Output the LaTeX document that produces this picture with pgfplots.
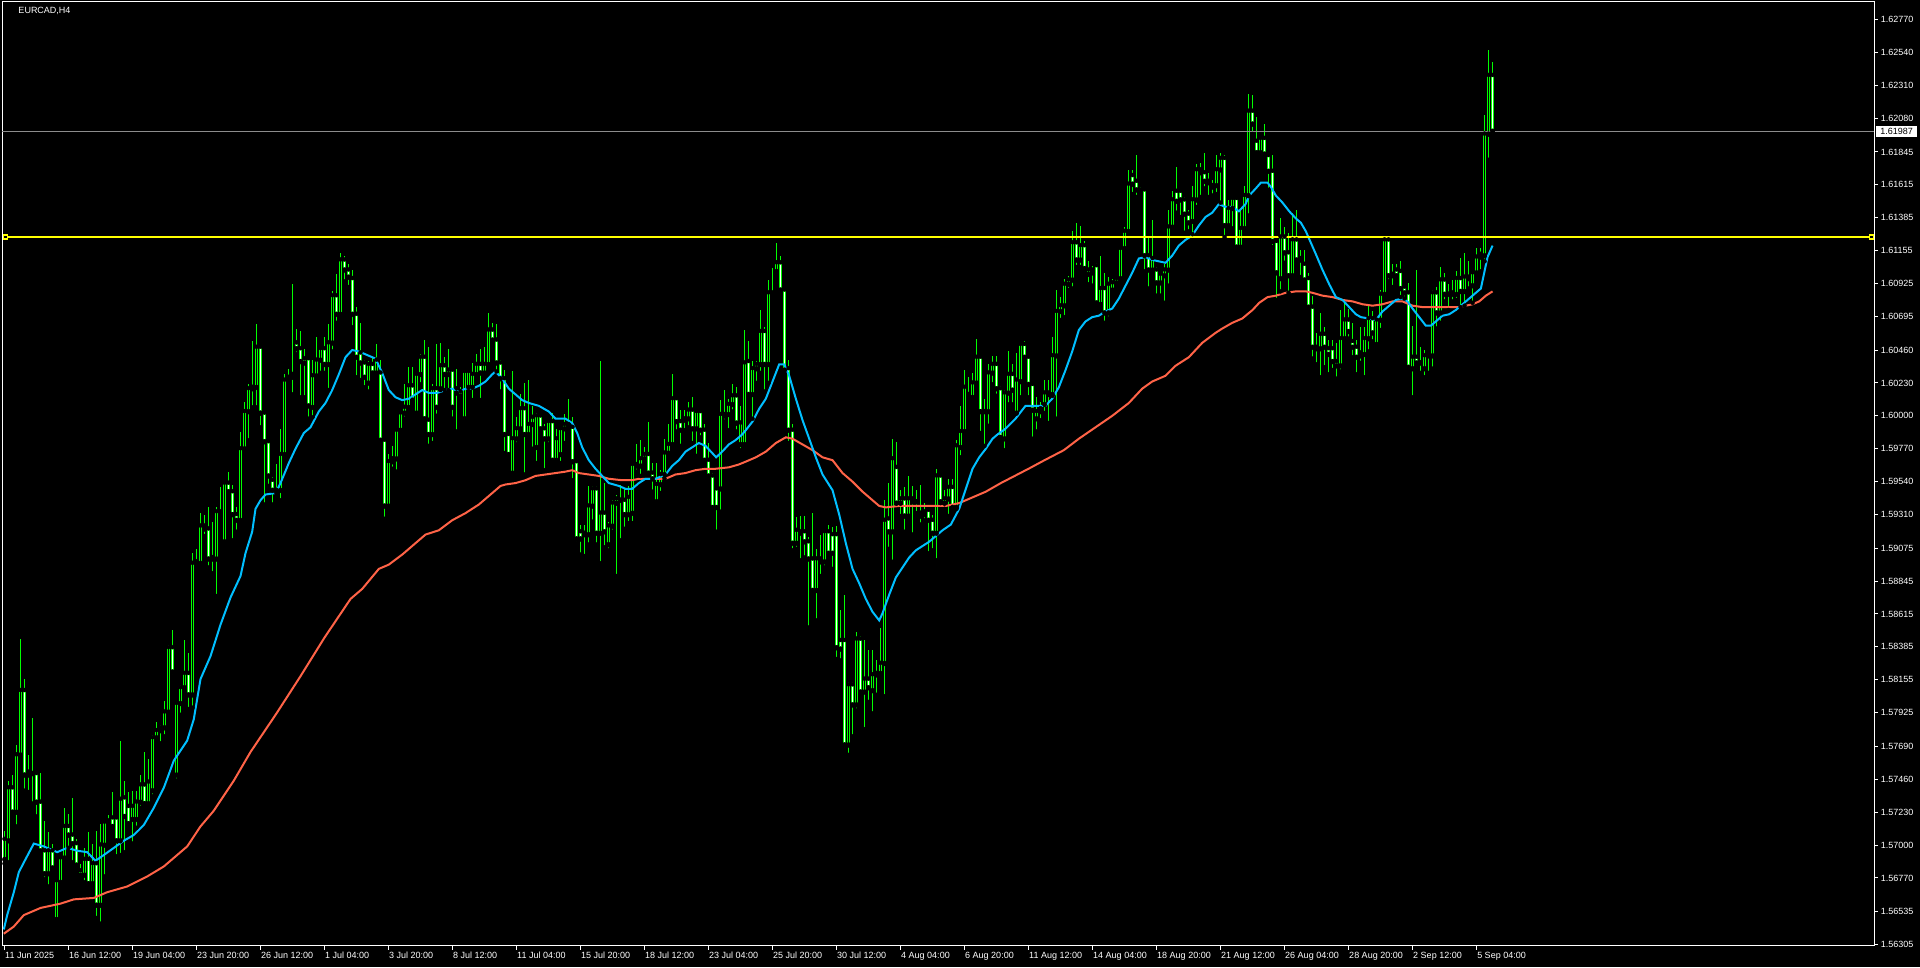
\documentclass[border=0pt]{standalone}
\usepackage{pgfplots}
\usepackage{pgfplotstable}
\usepackage{fontspec}
\setmainfont{Liberation Sans}
\pgfplotsset{compat=1.18}

\definecolor{candle}{RGB}{0,255,0}
\definecolor{mafast}{RGB}{0,191,255}
\definecolor{maslow}{RGB}{255,99,71}
\definecolor{level}{RGB}{255,255,0}
\definecolor{bidline}{RGB}{140,140,140}

% EURCAD H4 candles: bar index, open, high, low, close
\pgfplotstableread{
i o h l c
0 1.5690 1.5710 1.5687 1.5704
1 1.5703 1.5745 1.5688 1.5740
2 1.5740 1.5749 1.5723 1.5723
3 1.5723 1.5770 1.5713 1.5763
4 1.5763 1.5844 1.5762 1.5808
5 1.5808 1.5816 1.5738 1.5749
6 1.5751 1.5763 1.5737 1.5749
7 1.5750 1.5789 1.5729 1.5750
8 1.5750 1.5751 1.5720 1.5730
9 1.5730 1.5750 1.5693 1.5696
10 1.5696 1.5717 1.5676 1.5680
11 1.5680 1.5709 1.5671 1.5696
12 1.5696 1.5701 1.5681 1.5684
13 1.5648 1.5676 1.5648 1.5675
14 1.5674 1.5692 1.5673 1.5691
15 1.5691 1.5726 1.5690 1.5713
16 1.5713 1.5722 1.5698 1.5707
17 1.5707 1.5733 1.5688 1.5701
18 1.5701 1.5704 1.5684 1.5686
19 1.5682 1.5687 1.5678 1.5679
20 1.5679 1.5698 1.5674 1.5690
21 1.5690 1.5709 1.5673 1.5673
22 1.5673 1.5701 1.5673 1.5687
23 1.5687 1.5710 1.5649 1.5658
24 1.5658 1.5715 1.5645 1.5700
25 1.5700 1.5716 1.5678 1.5716
26 1.5717 1.5721 1.5713 1.5715
27 1.5719 1.5737 1.5712 1.5713
28 1.5719 1.5720 1.5692 1.5703
29 1.5703 1.5773 1.5693 1.5732
30 1.5733 1.5745 1.5695 1.5720
31 1.5727 1.5737 1.5712 1.5715
32 1.5718 1.5738 1.5701 1.5727
33 1.5718 1.5738 1.5712 1.5730
34 1.5730 1.5749 1.5726 1.5742
35 1.5742 1.5765 1.5728 1.5729
36 1.5729 1.5760 1.5727 1.5744
37 1.5738 1.5777 1.5734 1.5775
38 1.5775 1.5786 1.5773 1.5780
39 1.5780 1.5784 1.5771 1.5782
40 1.5782 1.5801 1.5776 1.5793
41 1.5793 1.5840 1.5791 1.5838
42 1.5838 1.5850 1.5818 1.5821
43 1.5749 1.5801 1.5745 1.5799
44 1.5799 1.5812 1.5791 1.5810
45 1.5810 1.5843 1.5807 1.5820
46 1.5820 1.5834 1.5795 1.5805
47 1.5805 1.5904 1.5796 1.5897
48 1.5897 1.5907 1.5894 1.5898
49 1.5897 1.5932 1.5896 1.5923
50 1.5923 1.5931 1.5916 1.5921
51 1.5921 1.5936 1.5894 1.5900
52 1.5900 1.5926 1.5890 1.5901
53 1.5900 1.5936 1.5874 1.5933
54 1.5933 1.5950 1.5930 1.5932
55 1.5912 1.5954 1.5912 1.5953
56 1.5953 1.5961 1.5946 1.5947
57 1.5947 1.5952 1.5913 1.5931
58 1.5931 1.5936 1.5919 1.5927
59 1.5927 1.5989 1.5926 1.5977
60 1.5977 1.6010 1.5976 1.6003
61 1.6003 1.6022 1.5983 1.6019
62 1.6019 1.6052 1.6006 1.6020
63 1.6020 1.6064 1.6006 1.6048
64 1.6048 1.6049 1.5992 1.6002
65 1.6002 1.6003 1.5938 1.5982
66 1.5982 1.5983 1.5951 1.5958
67 1.5955 1.5957 1.5938 1.5948
68 1.5948 1.5966 1.5946 1.5947
69 1.5948 1.5991 1.5941 1.5973
70 1.5973 1.6029 1.5971 1.6025
71 1.6025 1.6033 1.6024 1.6027
72 1.6027 1.6092 1.6015 1.6029
73 1.6051 1.6061 1.6043 1.6047
74 1.6047 1.6059 1.6013 1.6038
75 1.6040 1.6047 1.6013 1.6037
76 1.6040 1.6041 1.5998 1.6007
77 1.6006 1.6039 1.5999 1.6028
78 1.6028 1.6055 1.6027 1.6039
79 1.6039 1.6048 1.6030 1.6047
80 1.6047 1.6055 1.6030 1.6036
81 1.6036 1.6064 1.6018 1.6051
82 1.6051 1.6087 1.6045 1.6084
83 1.6084 1.6099 1.6065 1.6071
84 1.6071 1.6114 1.6071 1.6109
85 1.6109 1.6112 1.6094 1.6102
86 1.6102 1.6106 1.6090 1.6097
87 1.6096 1.6102 1.6062 1.6071
88 1.6071 1.6076 1.6027 1.6041
89 1.6044 1.6065 1.6025 1.6037
90 1.6037 1.6039 1.6020 1.6027
91 1.6023 1.6038 1.6017 1.6036
92 1.6036 1.6041 1.6029 1.6030
93 1.6030 1.6050 1.6030 1.6039
94 1.6030 1.6039 1.5982 1.5983
95 1.5983 1.5984 1.5928 1.5937
96 1.5937 1.5973 1.5934 1.5968
97 1.5968 1.5979 1.5963 1.5970
98 1.5970 1.5991 1.5961 1.5990
99 1.5990 1.6003 1.5989 1.6002
100 1.6002 1.6022 1.5998 1.6006
101 1.6006 1.6034 1.6005 1.6021
102 1.6021 1.6034 1.6010 1.6011
103 1.6002 1.6030 1.6002 1.6029
104 1.6029 1.6043 1.6022 1.6041
105 1.6041 1.6053 1.5997 1.5998
106 1.5997 1.6048 1.5979 1.5987
107 1.5987 1.6022 1.5981 1.6019
108 1.6019 1.6050 1.6000 1.6006
109 1.6019 1.6051 1.6018 1.6035
110 1.6035 1.6041 1.6018 1.6029
111 1.6029 1.6047 1.6018 1.6032
112 1.6032 1.6033 1.5998 1.6006
113 1.6019 1.6033 1.5989 1.6016
114 1.6017 1.6020 1.6011 1.6014
115 1.5998 1.6033 1.5998 1.6031
116 1.6020 1.6032 1.6017 1.6031
117 1.6020 1.6037 1.6011 1.6029
118 1.6029 1.6043 1.6026 1.6036
119 1.6036 1.6047 1.6011 1.6030
120 1.6030 1.6048 1.6029 1.6036
121 1.6036 1.6072 1.6035 1.6060
122 1.6060 1.6065 1.6051 1.6053
123 1.6053 1.6064 1.6031 1.6037
124 1.6037 1.6039 1.6017 1.6026
125 1.6026 1.6032 1.5974 1.5987
126 1.5987 1.5989 1.5970 1.5973
127 1.5960 1.6031 1.5960 1.5984
128 1.5984 1.5999 1.5980 1.5991
129 1.5991 1.6015 1.5988 1.6005
130 1.6005 1.6023 1.5959 1.5987
131 1.5987 1.6025 1.5985 1.5994
132 1.5994 1.6007 1.5977 1.5999
133 1.5978 1.6002 1.5967 1.6000
134 1.6000 1.6001 1.5989 1.5991
135 1.5991 1.5994 1.5962 1.5984
136 1.5984 1.5997 1.5980 1.5996
137 1.5996 1.6002 1.5967 1.5969
138 1.5969 1.5991 1.5967 1.5984
139 1.5973 1.5991 1.5967 1.5991
140 1.5991 1.6001 1.5981 1.5994
141 1.5994 1.6012 1.5990 1.5992
142 1.5992 1.5999 1.5955 1.5968
143 1.5968 1.5969 1.5911 1.5914
144 1.5919 1.5924 1.5903 1.5914
145 1.5917 1.5924 1.5902 1.5918
146 1.5917 1.5951 1.5910 1.5937
147 1.5937 1.5951 1.5926 1.5949
148 1.5949 1.5951 1.5910 1.5918
149 1.5918 1.6038 1.5897 1.5932
150 1.5932 1.5953 1.5908 1.5919
151 1.5910 1.5926 1.5906 1.5923
152 1.5923 1.5941 1.5919 1.5939
153 1.5939 1.5945 1.5888 1.5942
154 1.5941 1.5952 1.5913 1.5941
155 1.5941 1.5949 1.5921 1.5931
156 1.5931 1.5951 1.5925 1.5943
157 1.5932 1.5968 1.5925 1.5966
158 1.5966 1.5980 1.5961 1.5965
159 1.5965 1.5983 1.5958 1.5970
160 1.5970 1.5978 1.5967 1.5973
161 1.5973 1.5996 1.5959 1.5960
162 1.5960 1.5967 1.5947 1.5956
163 1.5940 1.5967 1.5940 1.5952
164 1.5952 1.5962 1.5946 1.5959
165 1.5959 1.5984 1.5956 1.5974
166 1.5974 1.5994 1.5973 1.5980
167 1.5980 1.6029 1.5979 1.6012
168 1.6012 1.6013 1.5989 1.5996
169 1.5996 1.6004 1.5979 1.5990
170 1.5997 1.6004 1.5990 1.5998
171 1.5998 1.6010 1.5992 1.6004
172 1.6004 1.6013 1.5981 1.5991
173 1.5991 1.6003 1.5972 1.6003
174 1.6003 1.6004 1.5985 1.5990
175 1.5990 1.5994 1.5968 1.5969
176 1.5969 1.5981 1.5956 1.5958
177 1.5958 1.5960 1.5934 1.5936
178 1.5949 1.5950 1.5919 1.5936
179 1.5949 1.6011 1.5933 1.6001
180 1.6001 1.6018 1.5996 1.6000
181 1.6001 1.6012 1.5990 1.6008
182 1.6008 1.6022 1.6003 1.6014
183 1.6014 1.6020 1.5989 1.5995
184 1.5980 1.6007 1.5976 1.5995
185 1.5980 1.6060 1.5978 1.6037
186 1.6038 1.6052 1.6014 1.6015
187 1.6015 1.6038 1.5998 1.6033
188 1.6033 1.6038 1.6023 1.6036
189 1.6036 1.6074 1.6030 1.6059
190 1.6059 1.6062 1.6017 1.6036
191 1.6036 1.6095 1.6023 1.6086
192 1.6086 1.6103 1.6082 1.6084
193 1.6101 1.6121 1.6098 1.6107
194 1.6107 1.6112 1.6087 1.6088
195 1.6088 1.6089 1.6032 1.6032
196 1.6033 1.6039 1.5981 1.5990
197 1.5990 1.5994 1.5906 1.5911
198 1.5911 1.5929 1.5907 1.5920
199 1.5919 1.5930 1.5899 1.5918
200 1.5919 1.5930 1.5901 1.5912
201 1.5912 1.5915 1.5852 1.5900
202 1.5900 1.5932 1.5876 1.5878
203 1.5878 1.5907 1.5857 1.5900
204 1.5900 1.5917 1.5888 1.5898
205 1.5898 1.5920 1.5894 1.5919
206 1.5919 1.5924 1.5902 1.5904
207 1.5917 1.5922 1.5893 1.5904
208 1.5917 1.5923 1.5830 1.5838
209 1.5843 1.5864 1.5829 1.5837
210 1.5843 1.5875 1.5767 1.5770
211 1.5770 1.5814 1.5763 1.5812
212 1.5812 1.5814 1.5776 1.5798
213 1.5798 1.5849 1.5794 1.5844
214 1.5844 1.5846 1.5805 1.5807
215 1.5807 1.5843 1.5781 1.5816
216 1.5816 1.5836 1.5800 1.5810
217 1.5808 1.5836 1.5792 1.5819
218 1.5819 1.5829 1.5805 1.5820
219 1.5820 1.5852 1.5817 1.5827
220 1.5827 1.5941 1.5804 1.5927
221 1.5928 1.5953 1.5907 1.5919
222 1.5919 1.5984 1.5898 1.5970
223 1.5964 1.5982 1.5939 1.5939
224 1.5939 1.5948 1.5930 1.5942
225 1.5942 1.5950 1.5919 1.5930
226 1.5930 1.5958 1.5930 1.5942
227 1.5942 1.5951 1.5917 1.5940
228 1.5940 1.5948 1.5932 1.5940
229 1.5932 1.5952 1.5924 1.5930
230 1.5931 1.5939 1.5927 1.5933
231 1.5934 1.5935 1.5904 1.5927
232 1.5927 1.5931 1.5906 1.5918
233 1.5918 1.5963 1.5899 1.5958
234 1.5958 1.5959 1.5939 1.5940
235 1.5939 1.5948 1.5935 1.5942
236 1.5942 1.5956 1.5930 1.5950
237 1.5950 1.5956 1.5933 1.5936
238 1.5936 1.5983 1.5935 1.5979
239 1.5978 1.6007 1.5971 1.5989
240 1.5989 1.6032 1.5989 1.6020
241 1.6013 1.6027 1.6010 1.6015
242 1.6013 1.6030 1.6010 1.6023
243 1.6023 1.6054 1.6022 1.6041
244 1.6041 1.6042 1.5988 1.6003
245 1.6003 1.6012 1.5979 1.6003
246 1.6003 1.6036 1.5993 1.6030
247 1.6030 1.6042 1.6022 1.6036
248 1.6036 1.6042 1.6014 1.6019
249 1.6019 1.6021 1.5983 1.5985
250 1.5984 1.6018 1.5976 1.6016
251 1.6016 1.6045 1.6008 1.6029
252 1.6029 1.6036 1.6008 1.6018
253 1.6002 1.6044 1.6002 1.6025
254 1.6024 1.6051 1.6013 1.6050
255 1.6050 1.6052 1.6039 1.6041
256 1.6041 1.6041 1.6013 1.6022
257 1.6022 1.6023 1.5984 1.6004
258 1.5998 1.6013 1.5989 1.6003
259 1.6003 1.6010 1.5997 1.6005
260 1.6008 1.6025 1.6002 1.6016
261 1.6016 1.6025 1.5995 1.6015
262 1.6015 1.6055 1.6014 1.6042
263 1.6042 1.6088 1.5998 1.6073
264 1.6073 1.6083 1.6067 1.6077
265 1.6077 1.6096 1.6069 1.6092
266 1.6092 1.6098 1.6088 1.6095
267 1.6095 1.6129 1.6089 1.6121
268 1.6121 1.6135 1.6104 1.6109
269 1.6109 1.6133 1.6104 1.6119
270 1.6119 1.6122 1.6102 1.6103
271 1.6099 1.6108 1.6092 1.6102
272 1.6100 1.6105 1.6091 1.6102
273 1.6105 1.6107 1.6077 1.6079
274 1.6078 1.6112 1.6077 1.6089
275 1.6089 1.6100 1.6065 1.6072
276 1.6072 1.6097 1.6068 1.6092
277 1.6088 1.6096 1.6087 1.6093
278 1.6093 1.6097 1.6092 1.6096
279 1.6096 1.6118 1.6095 1.6117
280 1.6117 1.6132 1.6116 1.6129
281 1.6129 1.6172 1.6128 1.6162
282 1.6168 1.6172 1.6155 1.6162
283 1.6164 1.6182 1.6153 1.6158
284 1.6158 1.6160 1.6154 1.6156
285 1.6158 1.6158 1.6101 1.6112
286 1.6112 1.6124 1.6089 1.6102
287 1.6102 1.6137 1.6101 1.6110
288 1.6102 1.6104 1.6084 1.6093
289 1.6093 1.6099 1.6084 1.6099
290 1.6098 1.6106 1.6079 1.6102
291 1.6102 1.6144 1.6091 1.6132
292 1.6132 1.6157 1.6130 1.6151
293 1.6157 1.6174 1.6142 1.6150
294 1.6157 1.6158 1.6139 1.6151
295 1.6151 1.6153 1.6128 1.6141
296 1.6141 1.6144 1.6129 1.6135
297 1.6136 1.6161 1.6127 1.6151
298 1.6151 1.6176 1.6146 1.6172
299 1.6172 1.6177 1.6153 1.6170
300 1.6170 1.6184 1.6159 1.6164
301 1.6164 1.6170 1.6153 1.6163
302 1.6161 1.6165 1.6154 1.6160
303 1.6161 1.6182 1.6155 1.6172
304 1.6172 1.6184 1.6149 1.6180
305 1.6180 1.6182 1.6125 1.6133
306 1.6133 1.6151 1.6132 1.6145
307 1.6145 1.6153 1.6131 1.6152
308 1.6152 1.6154 1.6116 1.6118
309 1.6118 1.6144 1.6118 1.6131
310 1.6131 1.6161 1.6130 1.6154
311 1.6154 1.6225 1.6140 1.6213
312 1.6213 1.6224 1.6197 1.6204
313 1.6192 1.6209 1.6182 1.6184
314 1.6184 1.6194 1.6182 1.6194
315 1.6194 1.6204 1.6181 1.6183
316 1.6182 1.6183 1.6158 1.6171
317 1.6171 1.6182 1.6118 1.6122
318 1.6122 1.6123 1.6081 1.6100
319 1.6096 1.6138 1.6087 1.6125
320 1.6125 1.6132 1.6107 1.6114
321 1.6114 1.6128 1.6086 1.6098
322 1.6098 1.6142 1.6097 1.6123
323 1.6123 1.6144 1.6107 1.6109
324 1.6110 1.6116 1.6097 1.6109
325 1.6106 1.6116 1.6094 1.6095
326 1.6096 1.6100 1.6073 1.6076
327 1.6076 1.6084 1.6040 1.6048
328 1.6048 1.6058 1.6036 1.6047
329 1.6047 1.6072 1.6027 1.6057
330 1.6057 1.6062 1.6034 1.6048
331 1.6047 1.6053 1.6029 1.6043
332 1.6047 1.6053 1.6032 1.6038
333 1.6038 1.6051 1.6026 1.6035
334 1.6035 1.6074 1.6031 1.6054
335 1.6054 1.6082 1.6053 1.6067
336 1.6067 1.6075 1.6054 1.6059
337 1.6052 1.6065 1.6041 1.6048
338 1.6048 1.6053 1.6029 1.6041
339 1.6042 1.6062 1.6037 1.6044
340 1.6043 1.6062 1.6027 1.6054
341 1.6054 1.6077 1.6045 1.6068
342 1.6068 1.6073 1.6052 1.6058
343 1.6050 1.6068 1.6049 1.6067
344 1.6067 1.6088 1.6060 1.6085
345 1.6085 1.6125 1.6084 1.6123
346 1.6123 1.6124 1.6094 1.6098
347 1.6099 1.6106 1.6090 1.6098
348 1.6102 1.6106 1.6095 1.6098
349 1.6101 1.6108 1.6083 1.6089
350 1.6090 1.6091 1.6082 1.6086
351 1.6086 1.6093 1.6033 1.6034
352 1.6033 1.6063 1.6013 1.6041
353 1.6041 1.6102 1.6036 1.6037
354 1.6037 1.6048 1.6030 1.6037
355 1.6033 1.6046 1.6027 1.6042
356 1.6042 1.6044 1.6030 1.6042
357 1.6042 1.6088 1.6033 1.6086
358 1.6086 1.6090 1.6061 1.6072
359 1.6072 1.6104 1.6065 1.6095
360 1.6095 1.6100 1.6080 1.6085
361 1.6085 1.6092 1.6074 1.6085
362 1.6085 1.6095 1.6080 1.6086
363 1.6085 1.6101 1.6081 1.6096
364 1.6096 1.6110 1.6076 1.6087
365 1.6087 1.6114 1.6077 1.6097
366 1.6097 1.6108 1.6089 1.6096
367 1.6091 1.6101 1.6079 1.6100
368 1.6100 1.6117 1.6100 1.6111
369 1.6111 1.6117 1.6101 1.6113
370 1.6112 1.6210 1.6108 1.6197
371 1.6197 1.6256 1.6179 1.6238
372 1.6238 1.6247 1.6196 1.6199
}\candles

% fast moving average (blue)
\pgfplotstableread{
x y
-0.17 1.5641
0.67 1.5651
2.33 1.5667
3.58 1.5681
5.25 1.5690
7.33 1.5701
9.83 1.5699
13.17 1.5695
15.67 1.5698
18.17 1.5696
20.67 1.5695
22.75 1.5689
24.83 1.5693
27.33 1.5698
29.83 1.5703
32.33 1.5707
34.83 1.5714
37.33 1.5726
39.83 1.5740
42.33 1.5759
45.67 1.5773
47.33 1.5788
49 1.5816
51.5 1.5832
54 1.5854
56.5 1.5873
59 1.5888
60.25 1.5904
61.92 1.5919
62.75 1.5935
64 1.5941
65.25 1.5945
67.75 1.5946
69 1.5953
71.08 1.5967
72.75 1.5977
74.83 1.5988
76.5 1.5992
78.58 1.6003
80.25 1.6009
81.92 1.6018
83.58 1.6029
85.25 1.6041
86.92 1.6046
88.58 1.6045
91.08 1.6042
92.75 1.6040
94.42 1.6030
96.08 1.6018
97.75 1.6013
99.42 1.6011
101.08 1.6012
102.75 1.6015
104.42 1.6018
106.08 1.6016
108.17 1.6016
110.25 1.6018
111.92 1.6019
113.58 1.6017
115.25 1.6019
116.92 1.6019
118.58 1.6021
120.25 1.6024
121.92 1.6029
122.75 1.6031
124.42 1.6026
126.08 1.6019
127.75 1.6015
129.42 1.6011
131.08 1.6009
133.58 1.6007
136.08 1.6003
137.75 1.5998
140.25 1.5998
141.92 1.5995
143.17 1.5988
144.42 1.5978
146.08 1.5969
147.75 1.5963
149.42 1.5958
151.08 1.5953
153.58 1.5951
155.25 1.5949
156.92 1.5949
158.58 1.5953
160.25 1.5956
162.75 1.5956
165.25 1.5959
166.92 1.5965
168.58 1.5969
170.25 1.5975
171.92 1.5978
173.58 1.5981
175.25 1.5979
176.92 1.5974
177.92 1.5971
179.42 1.5975
181.08 1.5980
182.75 1.5983
184.42 1.5987
185.33 1.5990
187 1.5996
188.67 1.6005
190.33 1.6012
192 1.6024
193.67 1.6036
194.92 1.6036
196.17 1.6028
197.83 1.6012
199.5 1.5997
201.17 1.5984
202.83 1.5971
204.5 1.5959
207 1.5948
208.67 1.5931
210.33 1.5911
212 1.5893
213.67 1.5883
215.33 1.5872
217 1.5863
218.67 1.5857
219.5 1.5862
221.17 1.5875
222.83 1.5887
224.5 1.5894
226.17 1.5901
227.83 1.5906
229.5 1.5909
231.17 1.5912
232.83 1.5916
234.5 1.5920
236.58 1.5924
238.67 1.5935
240.33 1.5949
242 1.5963
243.67 1.5971
245.33 1.5977
247 1.5984
248.25 1.5987
250.25 1.5991
252.75 1.5998
255.25 1.6007
257.75 1.6007
260.25 1.6007
261.92 1.6012
263.58 1.6020
265.25 1.6032
266.92 1.6045
268.58 1.6060
270.25 1.6066
271.92 1.6069
273.58 1.6070
275.25 1.6073
276.92 1.6075
278.58 1.6082
280.25 1.6091
281.92 1.6100
283.58 1.6110
285.25 1.6111
286.92 1.6109
288.58 1.6108
290.25 1.6107
291.92 1.6112
293.58 1.6119
295.25 1.6123
296.92 1.6126
298.58 1.6133
300.25 1.6139
301.92 1.6142
303.58 1.6148
305.25 1.6146
306.92 1.6146
308.58 1.6143
310.25 1.6148
311.17 1.6154
312.83 1.6159
314.08 1.6163
315.75 1.6163
316.58 1.6160
317.83 1.6154
319.5 1.6149
321.17 1.6143
322.83 1.6138
324.08 1.6135
325.33 1.6129
326.58 1.6121
327.83 1.6113
329.5 1.6102
331.17 1.6092
332.83 1.6083
334.5 1.6081
336.17 1.6076
337.83 1.6071
339.08 1.6069
341.17 1.6068
342.83 1.6067
344.5 1.6073
346.17 1.6077
347.83 1.6081
349.5 1.6082
350.75 1.6080
352 1.6075
353.67 1.6069
355.33 1.6063
356.58 1.6063
357.83 1.6066
359.5 1.6070
361.17 1.6071
362.83 1.6074
364.5 1.6078
366.17 1.6082
367.83 1.6086
369.08 1.6089
369.92 1.6100
370.75 1.6111
372 1.6119
}\fastma

% slow moving average (red)
\pgfplotstableread{
x y
-0.17 1.5638
2.33 1.5643
4.83 1.5651
9 1.5656
14 1.5659
17.33 1.5662
22.33 1.5663
25.67 1.5667
30.67 1.5671
35.67 1.5678
39.83 1.5685
42.33 1.5691
45.67 1.5699
49 1.5713
52.33 1.5724
57.33 1.5745
61.5 1.5765
68 1.5792
74 1.5818
80 1.5845
86.5 1.5872
89.42 1.5879
93.58 1.5893
96.08 1.5896
99.42 1.5903
102.75 1.5911
105.25 1.5917
108.58 1.5920
111.92 1.5927
115.25 1.5932
118.58 1.5938
121.92 1.5946
124 1.5951
125.25 1.5952
127.75 1.5953
130.25 1.5955
132.75 1.5958
135.25 1.5959
137.75 1.5960
140.25 1.5961
141.92 1.5962
143.58 1.5960
146.08 1.5959
148.58 1.5958
151.08 1.5956
154.42 1.5955
156.92 1.5955
158.58 1.5956
161.08 1.5956
165.25 1.5956
167.75 1.5959
170.25 1.5960
172.75 1.5962
175.25 1.5963
177.75 1.5963
181.08 1.5964
183.58 1.5966
185.33 1.5968
187.83 1.5971
190.33 1.5975
192.83 1.5981
195.33 1.5985
197 1.5984
199.5 1.5980
202 1.5976
204.5 1.5971
207 1.5969
209.5 1.5960
212 1.5954
214.5 1.5947
217 1.5941
218.67 1.5937
220.33 1.5936
223.67 1.5937
228.67 1.5937
232 1.5937
235.33 1.5937
238.67 1.5939
242 1.5943
245.33 1.5947
249.08 1.5953
256 1.5963
260 1.5969
264.83 1.5976
268.58 1.5984
272.75 1.5992
276.92 1.6000
281.08 1.6009
284.42 1.6019
286.92 1.6024
290.25 1.6028
292.75 1.6035
296.08 1.6041
299.42 1.6051
302.75 1.6058
304.42 1.6061
306.92 1.6065
309.42 1.6068
312 1.6074
313.67 1.6079
315.75 1.6083
317.83 1.6084
320.33 1.6086
322.83 1.6087
325.33 1.6087
327 1.6086
329.5 1.6084
332 1.6083
334.5 1.6081
337 1.6080
339.5 1.6078
342 1.6077
344.5 1.6078
347 1.6080
349.5 1.6080
352 1.6077
354.5 1.6076
357 1.6076
360.33 1.6076
363.67 1.6076
367 1.6078
368.67 1.6080
370.33 1.6084
372 1.6087
}\slowma

\newcommand{\mtfont}{\fontsize{9bp}{10bp}\selectfont}

\begin{document}
\begin{tikzpicture}[x=1bp,y=1bp]
\fill[black] (0,0) rectangle (1920,967);
\useasboundingbox (0,0) rectangle (1920,967);
\begin{axis}[
  at={(2bp,21bp)}, anchor=south west,
  scale only axis, width=1872bp, height=944bp,
  xmin=-0.625, xmax=467.375, ymin=1.56294, ymax=1.62893,
  axis line style={white, line width=1bp},
  tick style={white, line width=1bp},
  tick align=outside, major tick length=4bp,
  xtick pos=left, ytick pos=right,
  xticklabel pos=left, yticklabel pos=right,
  xtick={0,16,...,368},
  xticklabels={11 Jun 2025,16 Jun 12:00,19 Jun 04:00,23 Jun 20:00,26 Jun 12:00,1 Jul 04:00,3 Jul 20:00,8 Jul 12:00,11 Jul 04:00,15 Jul 20:00,18 Jul 12:00,23 Jul 04:00,25 Jul 20:00,30 Jul 12:00,4 Aug 04:00,6 Aug 20:00,11 Aug 12:00,14 Aug 04:00,18 Aug 20:00,21 Aug 12:00,26 Aug 04:00,28 Aug 20:00,2 Sep 12:00,5 Sep 04:00},
  ytick={1.56305,1.56535,1.56770,1.57000,1.57230,1.57460,1.57690,1.57925,1.58155,1.58385,1.58615,1.58845,1.59075,1.59310,1.59540,1.59770,1.60000,1.60230,1.60460,1.60695,1.60925,1.61155,1.61385,1.61615,1.61845,1.62080,1.62310,1.62540,1.62770},
  yticklabels={1.56305,1.56535,1.56770,1.57000,1.57230,1.57460,1.57690,1.57925,1.58155,1.58385,1.58615,1.58845,1.59075,1.59310,1.59540,1.59770,1.60000,1.60230,1.60460,1.60695,1.60925,1.61155,1.61385,1.61615,1.61845,1.62080,1.62310,1.62540,1.62770},
  xticklabel style={font=\mtfont, text=white, anchor=north west, inner sep=0pt, xshift=0.5bp, yshift=-2bp},
  yticklabel style={font=\mtfont, text=white, anchor=west, inner sep=0pt, xshift=2.5bp},
  clip=false,
]
% wicks
\addplot[only marks, mark=none, forget plot,
  error bars/.cd, y dir=plus, y explicit, error mark=none,
  error bar style={draw=candle, line width=1bp}]
  table[x=i, y=l, y error expr=\thisrow{h}-\thisrow{l}] {\candles};
% body outlines
\addplot[only marks, mark=none, forget plot,
  error bars/.cd, y dir=plus, y explicit, error mark=none,
  error bar style={draw=candle, line width=3bp}]
  table[x=i, y expr={min(\thisrow{o},\thisrow{c})-0.00004},
        y error expr={abs(\thisrow{c}-\thisrow{o})+0.00008}] {\candles};
% bearish bodies filled white
\addplot[only marks, mark=none, forget plot,
  error bars/.cd, y dir=plus, y explicit, error mark=none,
  error bar style={draw=white, line width=1bp}]
  table[x=i, y expr={\thisrow{c}+0.00003},
        y error expr={max(\thisrow{o}-\thisrow{c}-0.00006,0)}] {\candles};
% bullish bodies hollow
\addplot[only marks, mark=none, forget plot,
  error bars/.cd, y dir=plus, y explicit, error mark=none,
  error bar style={draw=black, line width=1bp}]
  table[x=i, y expr={\thisrow{o}+0.00003},
        y error expr={max(\thisrow{c}-\thisrow{o}-0.00006,0)}] {\candles};
% moving averages
\addplot[maslow, line width=2bp, forget plot] table[x=x, y=y] {\slowma};
\addplot[mafast, line width=2bp, forget plot] table[x=x, y=y] {\fastma};
% bid line and horizontal level
\addplot[bidline, line width=1bp, forget plot] coordinates {(-0.625,1.61987) (467.375,1.61987)};
\addplot[level, line width=2bp, forget plot] coordinates {(0.2,1.61250) (466.7,1.61250)};
\addplot[only marks, mark=square*, mark size=2bp, forget plot,
  mark options={draw=level, fill=black, line width=1.2bp}]
  coordinates {(0.2,1.61250) (466.7,1.61250)};
\coordinate (bid) at (axis cs:467.375,1.61987);
\end{axis}
\node[fill=white, text=black, anchor=west, font=\mtfont, inner xsep=4.5bp, inner ysep=2bp, xshift=1.7bp] at (bid) {1.61987};
\node[anchor=base west, text=white, font=\mtfont, inner sep=0pt] at (18.3,953) {EURCAD,H4};
\end{tikzpicture}
\end{document}
